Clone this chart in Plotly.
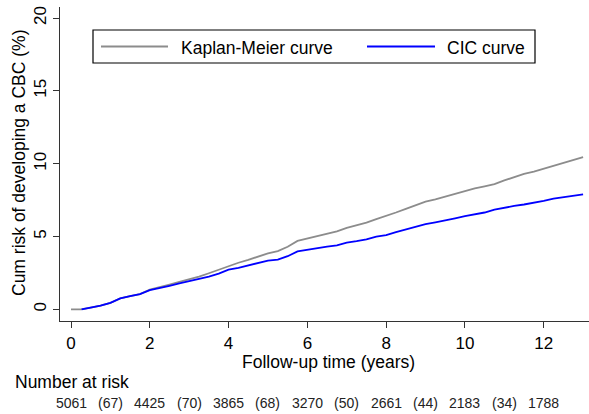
import plotly.graph_objects as go

# Follow-up time grid (years) for the cumulative-risk curves
time_km = [0.0, 0.25, 0.5, 0.75, 1.0, 1.25, 1.5, 1.75, 2.0, 2.25, 2.5, 2.75,
           3.0, 3.25, 3.5, 3.75, 4.0, 4.25, 4.5, 4.75, 5.0, 5.25, 5.5, 5.75,
           6.0, 6.25, 6.5, 6.75, 7.0, 7.25, 7.5, 7.75, 8.0, 8.25, 8.5, 8.75,
           9.0, 9.25, 9.5, 9.75, 10.0, 10.25, 10.5, 10.75, 11.0, 11.25, 11.5,
           11.75, 12.0, 12.25, 12.5, 12.75, 13.0]

# Kaplan-Meier based cumulative risk (%)
risk_km = [0.0, 0.0, 0.12, 0.25, 0.45, 0.75, 0.9, 1.05, 1.35, 1.5, 1.7, 1.88,
           2.05, 2.25, 2.48, 2.72, 3.0, 3.2, 3.4, 3.65, 3.85, 4.0, 4.3, 4.7,
           4.85, 5.0, 5.2, 5.35, 5.6, 5.75, 5.95, 6.2, 6.4, 6.65, 6.9, 7.15,
           7.4, 7.55, 7.75, 7.95, 8.15, 8.3, 8.45, 8.6, 8.85, 9.1, 9.3,
           9.45, 9.65, 9.9, 10.1, 10.3, 10.45]

# Cumulative incidence (competing risks), starting at the first event
time_cic = [0.27, 0.5, 0.75, 1.0, 1.25, 1.5, 1.75, 2.0, 2.25, 2.5, 2.75,
            3.0, 3.25, 3.5, 3.75, 4.0, 4.25, 4.5, 4.75, 5.0, 5.25, 5.5, 5.75,
            6.0, 6.25, 6.5, 6.75, 7.0, 7.25, 7.5, 7.75, 8.0, 8.25, 8.5, 8.75,
            9.0, 9.25, 9.5, 9.75, 10.0, 10.25, 10.5, 10.75, 11.0, 11.25, 11.5,
            11.75, 12.0, 12.25, 12.5, 12.75, 13.0]
risk_cic = [0.0, 0.12, 0.25, 0.45, 0.75, 0.9, 1.05, 1.32, 1.45, 1.62, 1.78,
            1.92, 2.08, 2.25, 2.45, 2.72, 2.85, 3.0, 3.2, 3.35, 3.42, 3.65, 3.98,
            4.1, 4.2, 4.3, 4.4, 4.58, 4.68, 4.8, 5.0, 5.1, 5.3, 5.5, 5.68,
            5.85, 5.98, 6.1, 6.25, 6.4, 6.5, 6.65, 6.85, 7.0, 7.1, 7.2,
            7.3, 7.45, 7.6, 7.7, 7.75, 7.9]

# Number-at-risk table
risk_times = [0, 2, 4, 6, 8, 10, 12]
at_risk = [5061, 4425, 3865, 3270, 2661, 2183, 1788]
censor_times = [1, 3, 5, 7, 9, 11]
censored = [67, 70, 68, 50, 44, 34]

x_ticks = [0, 2, 4, 6, 8, 10, 12]
y_ticks = [0, 5, 10, 15, 20]

series_names = ["Kaplan-Meier curve", "CIC curve"]
KM_COLOR = "#8c8c8c"
CIC_COLOR = "#0000ff"
FONT = "Liberation Sans, Arial, sans-serif"

W, H = 589, 414
L, R, T, B = 60, 0, 7, 93
PW, PH = W - L - R, H - T - B


def px(xp):
    """Horizontal pixel -> paper fraction."""
    return (xp - L) / PW


def py(yp):
    """Vertical pixel (from top) -> paper fraction."""
    return (H - B - yp) / PH


fig = go.Figure()
fig.add_trace(go.Scatter(x=time_km, y=risk_km, mode="lines",
                         line=dict(color=KM_COLOR, width=1.8),
                         name=series_names[0], showlegend=False))
fig.add_trace(go.Scatter(x=time_cic, y=risk_cic, mode="lines",
                         line=dict(color=CIC_COLOR, width=1.8),
                         name=series_names[1], showlegend=False))

# Boxed legend along the top of the plot
shapes = [
    dict(type="rect", xref="paper", yref="paper", x0=px(93), x1=px(535),
         y0=py(63), y1=py(30), line=dict(color="black", width=1.2),
         fillcolor="white", layer="below"),
    dict(type="line", xref="paper", yref="paper", x0=px(101), x1=px(168),
         y0=py(46.5), y1=py(46.5), line=dict(color=KM_COLOR, width=1.8)),
    dict(type="line", xref="paper", yref="paper", x0=px(367), x1=px(435),
         y0=py(46.5), y1=py(46.5), line=dict(color=CIC_COLOR, width=1.8)),
]

annotations = [
    dict(text=series_names[0], xref="paper", yref="paper", x=px(179), y=py(48),
         xanchor="left", yanchor="middle", showarrow=False,
         font=dict(size=17.5, color="black", family=FONT)),
    dict(text=series_names[1], xref="paper", yref="paper", x=px(445), y=py(48),
         xanchor="left", yanchor="middle", showarrow=False,
         font=dict(size=17.5, color="black", family=FONT)),
    # axis titles
    dict(text="Follow-up time (years)", xref="paper", yref="paper",
         x=px(328), y=py(362), xanchor="center", yanchor="middle",
         showarrow=False, font=dict(size=17.5, color="black", family=FONT)),
    dict(text="Cum risk of developing a CBC (%)", xref="paper", yref="paper",
         x=px(19), y=py(163), xanchor="center", yanchor="middle", textangle=-90,
         showarrow=False, font=dict(size=17.5, color="black", family=FONT)),
    dict(text="Number at risk", xref="paper", yref="paper",
         x=px(13), y=py(382), xanchor="left", yanchor="middle",
         showarrow=False, font=dict(size=17.5, color="black", family=FONT)),
]
for t, n in zip(risk_times, at_risk):
    annotations.append(dict(text=str(n), xref="x", yref="paper", x=t, y=py(403),
                            xanchor="center", yanchor="middle", showarrow=False,
                            font=dict(size=14, color="#222222", family=FONT)))
for t, c in zip(censor_times, censored):
    annotations.append(dict(text=f"({c})", xref="x", yref="paper", x=t, y=py(403),
                            xanchor="center", yanchor="middle", showarrow=False,
                            font=dict(size=14, color="#222222", family=FONT)))

fig.update_layout(
    width=W, height=H,
    margin=dict(l=L, r=R, t=T, b=B, pad=0),
    paper_bgcolor="white", plot_bgcolor="white",
    font=dict(family=FONT, color="black"),
    shapes=shapes, annotations=annotations,
    showlegend=False,
)
fig.update_xaxes(
    range=[-0.28, 13.15], tickvals=x_ticks, ticktext=[str(v) for v in x_ticks],
    showgrid=False, zeroline=False, showline=True, linecolor="#333333",
    linewidth=1.2, ticks="outside", ticklen=6, tickcolor="#333333",
    tickfont=dict(size=17, family=FONT, color="black"),
)
fig.update_yaxes(
    range=[-0.8, 20.76], tickvals=y_ticks, ticktext=[str(v) for v in y_ticks],
    showgrid=False, zeroline=False, showline=True, linecolor="#333333",
    linewidth=1.2, ticks="outside", ticklen=6, tickcolor="#333333",
    tickangle=-90, tickfont=dict(size=17, family=FONT, color="black"),
)

fig.write_html("out.html")
